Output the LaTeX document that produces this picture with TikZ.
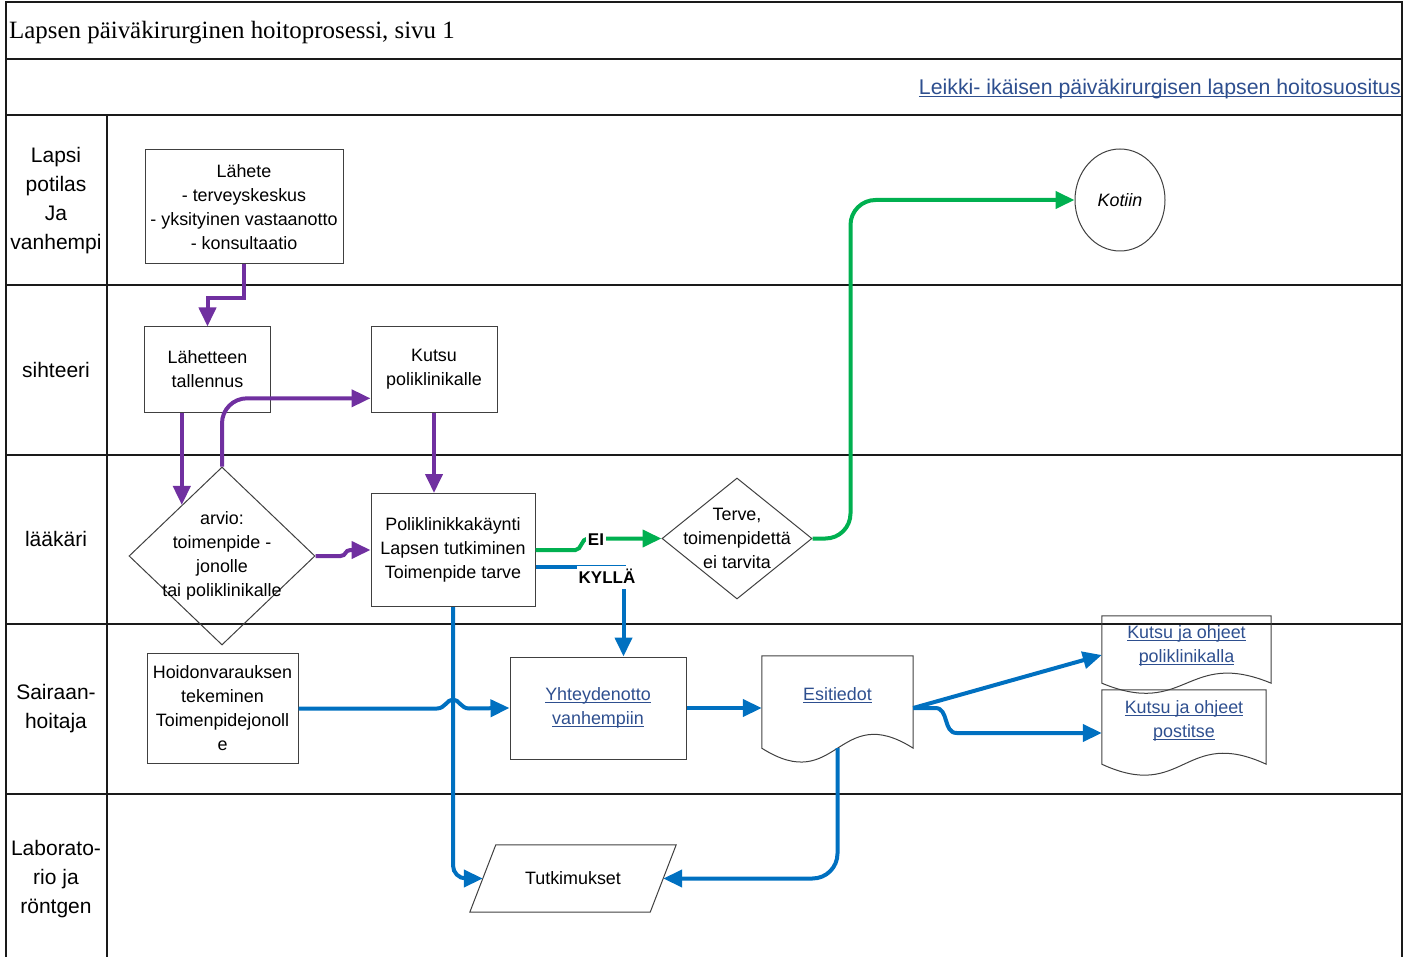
\documentclass[tikz,border=0pt]{standalone}
\usepackage{fontspec}
\setmainfont{Liberation Sans}
\newfontfamily\titlefont{Liberation Serif}
\usetikzlibrary{arrows.meta,shapes.geometric,calc}

\definecolor{purp}{HTML}{7030A0}
\definecolor{grn}{HTML}{00B050}
\definecolor{blu}{HTML}{0070C0}
\definecolor{linkc}{HTML}{2E4F8F}
\definecolor{edgec}{HTML}{404040}
\definecolor{rulec}{HTML}{1A1A1A}

% underlined link-style text
\newcommand\hyperul[1]{\setbox0\hbox{#1}\rlap{\rule[-2.6pt]{\wd0}{1.1pt}}\box0}
\newcommand\bodyfont{\fontsize{17.9}{24}\selectfont}
\newcommand\lanefont{\fontsize{21}{29}\selectfont}

% document symbol with a wavy lower edge: node name, extra depth, wave strength
\newcommand\wavydoc[3]{%
  \draw[edgeline] (#1.north west) -- ($(#1.south west)+(0,#2)$)
    .. controls ($(#1.south)+(0,#2+#3)$) and ($(#1.south)+(0,#2-#3)$) ..
    ($(#1.south east)+(0,#2)$) -- (#1.north east) -- cycle;}

\begin{document}
\begin{tikzpicture}[x=1pt,y=-1pt,
  frame/.style={draw=rulec,line width=1.3pt},
  edgeline/.style={draw=edgec,line width=1pt},
  box/.style={draw=edgec,line width=1pt,inner sep=0pt,align=center,font=\bodyfont},
  doc/.style={inner sep=0pt,align=center,font=\bodyfont,text=linkc},
  dia/.style={diamond,draw=edgec,line width=1pt,inner sep=0pt},
  diatext/.style={align=center,font=\bodyfont,inner sep=0pt},
  lane/.style={align=center,font=\lanefont,inner sep=0pt},
  conn/.style={line width=4pt,-{Triangle[length=19pt,width=17pt]}},
  tag/.style={fill=white,font=\fontsize{17}{20}\selectfont\bfseries,text height=13pt,text depth=0pt,inner xsep=2pt,inner ysep=5pt}]

\useasboundingbox (0,0) rectangle (1416,957);

% ---------- frame and swimlanes ----------
\draw[frame] (6,962) -- (6,2) -- (1402,2) -- (1402,962);
\foreach \yy in {59,115,285,455,624,794}
  \draw[frame] (6,\yy) -- (1402,\yy);
\draw[frame] (107,115) -- (107,962);

\node[anchor=base west,inner sep=0pt,font=\titlefont\fontsize{24.9}{28}\selectfont] (title) at (9,39)
  {Lapsen päiväkirurginen hoitoprosessi, sivu 1};
\node[anchor=base east,inner sep=0pt,text=linkc,font=\fontsize{21.3}{24}\selectfont] (link) at (1401,94.5)
  {\hyperul{Leikki- ikäisen päiväkirurgisen lapsen hoitosuositus}};

\node[lane] (l1) at (56,200.5) {Lapsi\\potilas\\Ja\\vanhempi};
\node[lane] (l2) at (56,369.5) {sihteeri};
\node[lane] (l3) at (56,539) {lääkäri};
\node[lane] (l4) at (56,709) {Sairaan-\\hoitaja};
\node[lane] (l5) at (56,879) {Laborato-\\rio ja\\röntgen};

% ---------- process steps ----------
\node[box,minimum width=198pt,minimum height=114pt] (lahete) at (244,207)
  {Lähete\\- terveyskeskus\\- yksityinen vastaanotto\\- konsultaatio};
\node[box,minimum width=126pt,minimum height=85pt] (tal) at (207.5,369.5) {Lähetteen\\tallennus};
\node[box,minimum width=126pt,minimum height=85pt] (kutsu) at (434,369.5) {Kutsu\\poliklinikalle};
\node[box,minimum width=164pt,minimum height=113pt] (poli) at (453,550)
  {Poliklinikkakäynti\\Lapsen tutkiminen\\Toimenpide tarve};
\node[dia,minimum width=186pt,minimum height=178pt,
  label={[diatext]center:arvio:\\toimenpide -\\jonolle\\tai poliklinikalle}] (arvio) at (222,556) {};
\node[dia,minimum width=150pt,minimum height=121pt,
  label={[diatext]center:Terve,\\toimenpidettä\\ei tarvita}] (terve) at (737,538.5) {};
\node[ellipse,draw=edgec,line width=1pt,minimum width=90pt,minimum height=102pt,inner sep=0pt,
  font=\bodyfont\itshape] (kotiin) at (1120,200) {Kotiin};
\node[box,minimum width=151pt,minimum height=110pt] (hoito) at (222.5,708.5)
  {Hoidonvarauksen\\tekeminen\\Toimenpidejonoll\\e};
\node[box,minimum width=176pt,minimum height=102pt,text=linkc] (yht) at (598,708)
  {\hyperul{Yhteydenotto}\\\hyperul{vanhempiin}};

\node[doc,minimum width=151pt,minimum height=78pt] (esi) at (837.5,695) {\hyperul{Esitiedot}};
\wavydoc{esi}{14}{48}
\node[doc,minimum width=169pt,minimum height=59pt] (kpol) at (1186.5,645.5)
  {\hyperul{Kutsu ja ohjeet}\\\hyperul{poliklinikalla}};
\wavydoc{kpol}{8}{35}
\node[doc,minimum width=164pt,minimum height=62pt] (kpos) at (1184,721)
  {\hyperul{Kutsu ja ohjeet}\\\hyperul{postitse}};
\wavydoc{kpos}{12}{38}

\node[inner sep=0pt,minimum width=206pt,minimum height=67pt,font=\bodyfont] (tut) at (573,878.5) {Tutkimukset};
\draw[edgeline] ($(tut.north west)+(26,0)$) -- (tut.north east)
  -- ($(tut.south east)+(-26,0)$) -- (tut.south west) -- cycle;

% ---------- connector end points ----------
\coordinate (arvioIn) at ($(arvio.north west)!0.14!(arvio.north)$);
\coordinate (kutsuIn) at ($(kutsu.west)!0.67!(kutsu.south west)$);
\coordinate (kyllaEnd) at ($(yht.north west)+(114,0)$);
\coordinate (esiIn) at (yht.east -| esi.west);
\coordinate (esiOut) at ($(esi.east)+(0,13)$);
\coordinate (esiBot) at ($(esi.south)+(0,14)$);
\coordinate (kpolIn) at ($(kpol.west)+(0,9.5)$);
\coordinate (kposIn) at ($(kpos.west)+(0,12)$);
\coordinate (tutL) at ($(tut.west)+(13,0)$);
\coordinate (tutR) at ($(tut.east)+(-13,0)$);
\coordinate (hopX) at (poli.south |- hoito.east);

% ---------- purple flow ----------
\draw[conn,purp] (lahete.south) -- ++(0,34) -| (tal.north);
\draw[conn,purp] (tal.south -| arvioIn) -- (arvioIn);
\draw[conn,purp,rounded corners=25pt] (arvio.north) |- (kutsuIn);
\draw[conn,purp] (kutsu.south) -- (kutsu.south |- poli.north);
\draw[conn,purp] (arvio.east) -- ++(25,0) .. controls +(6,0) and +(-6,0) .. ($(poli.west)+(-20,0)$) -- (poli.west);

% ---------- green flow ----------
\draw[conn,grn] (poli.east) -- ++(40,0) .. controls +(6,0) and +(-6,0) .. ($(terve.west)+(-74,0)$) -- (terve.west);
\node[tag] (ei) at (596,538.5) {EI};
\draw[conn,grn,rounded corners=25pt] (terve.east) -- ($(terve.east)+(38,0)$) |- (kotiin.west);

% ---------- blue flow ----------
\draw[conn,blu] ($(poli.east)+(0,17)$) -| (kyllaEnd);
\node[tag] (kylla) at (607,577) {KYLLÄ};
\draw[conn,blu,rounded corners=13pt] (poli.south) |- (tutL);
\draw[conn,blu] (hoito.east) -- ($(hopX)+(-16,0)$) .. controls +(8,0) and +(-6,0) .. ($(hopX)+(0,-9)$)
  .. controls +(6,0) and +(-8,0) .. ($(hopX)+(16,0)$) -- (yht.west);
\draw[conn,blu] (yht.east) -- (esiIn);
\draw[conn,blu] (esiOut) -- (kpolIn);
\draw[conn,blu] (esiOut) -- ++(22,0) .. controls +(14,0) and +(-14,0) .. ($(kposIn)+(-145,0)$) -- (kposIn);
\draw[conn,blu,rounded corners=25pt] (esiBot) |- (tutR);

\end{tikzpicture}
\end{document}
